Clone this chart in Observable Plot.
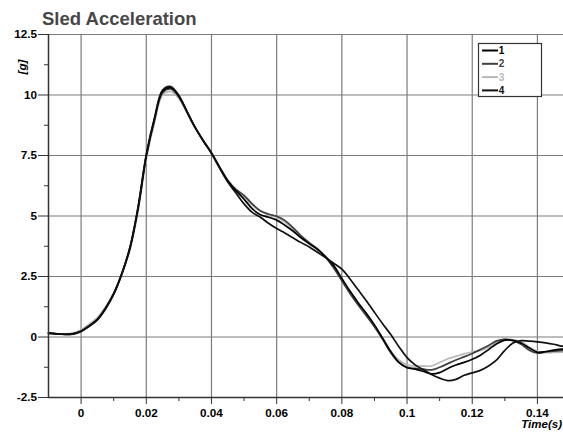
<!DOCTYPE html>
<html><head><meta charset="utf-8">
<script src="https://cdn.jsdelivr.net/npm/d3@7"></script>
<script src="https://cdn.jsdelivr.net/npm/@observablehq/plot@0.6"></script>
<style>
body{margin:0;background:#fff;overflow:hidden}
#wrap{position:relative;width:563px;height:435px}
#title{position:absolute;left:42px;top:8px;font:bold 18.5px "Liberation Sans",Arial,sans-serif;color:#474747;z-index:2}
</style></head><body><div id="wrap"><div id="title">Sled Acceleration</div></div>
<script>
const time = [-0.01,-0.0075,-0.005,-0.0025,0,0.0025,0.005,0.0075,0.01,0.0125,0.015,0.0175,0.02,0.0225,0.025,0.0275,0.03,0.0325,0.035,0.0375,0.04,0.0425,0.045,0.0475,0.05,0.0525,0.055,0.0575,0.06,0.0625,0.065,0.0675,0.07,0.0725,0.075,0.0775,0.08,0.0825,0.085,0.0875,0.09,0.0925,0.095,0.0975,0.1,0.1025,0.105,0.1075,0.11,0.1125,0.115,0.1175,0.12,0.1225,0.125,0.1275,0.13,0.1325,0.135,0.1375,0.14,0.1425,0.145,0.1475,0.15];
const accel1 = [0.16,0.13,0.11,0.13,0.24,0.45,0.72,1.18,1.78,2.62,3.7,5.35,7.5,9.0,10.15,10.3,9.95,9.3,8.65,8.1,7.6,7.0,6.45,6.05,
  5.7,5.3,5.05,4.95,4.83,4.62,4.38,4.1,3.85,3.62,3.32,2.95,2.42,1.9,1.42,0.98,0.5,-0.05,-0.6,-1.05,-1.27,-1.33,-1.42,-1.52,-1.47,-1.3,-1.16,-1.05,-0.92,-0.75,-0.52,-0.28,-0.13,-0.14,-0.25,-0.45,-0.63,-0.6,-0.54,-0.5,-0.5];
const accel2 = [0.15,0.13,0.12,0.14,0.25,0.47,0.74,1.2,1.8,2.6,3.65,5.3,7.45,8.95,10.1,10.25,9.92,9.3,8.66,8.12,7.62,7.03,6.48,6.1,
  5.85,5.5,5.22,5.08,4.99,4.82,4.52,4.18,3.9,3.65,3.3,2.85,2.32,1.8,1.32,0.88,0.42,-0.1,-0.65,-1.05,-1.25,-1.3,-1.33,-1.36,-1.25,-1.1,-0.95,-0.82,-0.68,-0.52,-0.35,-0.16,-0.1,-0.15,-0.3,-0.55,-0.67,-0.62,-0.58,-0.56,-0.56];
const accel3 = [0.15,0.14,0.13,0.16,0.3,0.53,0.8,1.25,1.82,2.6,3.6,5.2,7.35,8.85,10.0,10.15,9.85,9.25,8.62,8.1,7.6,7.02,6.47,6.08,
  5.8,5.45,5.2,5.05,4.95,4.75,4.45,4.12,3.87,3.6,3.3,2.88,2.36,1.85,1.36,0.9,0.44,-0.05,-0.58,-0.95,-1.15,-1.2,-1.2,-1.2,-1.05,-0.9,-0.8,-0.7,-0.62,-0.55,-0.42,-0.2,-0.08,-0.12,-0.19,-0.42,-0.6,-0.65,-0.64,-0.63,-0.63];
const accel4 = [0.17,0.13,0.11,0.12,0.23,0.44,0.71,1.16,1.76,2.62,3.72,5.4,7.55,9.05,10.2,10.35,9.98,9.32,8.66,8.1,7.58,6.98,6.4,5.95,
  5.5,5.15,4.95,4.7,4.48,4.3,4.1,3.9,3.72,3.5,3.28,3.05,2.8,2.4,1.95,1.5,1.02,0.55,0.1,-0.4,-0.85,-1.15,-1.35,-1.55,-1.7,-1.8,-1.75,-1.58,-1.48,-1.38,-1.2,-0.95,-0.55,-0.25,-0.15,-0.17,-0.2,-0.24,-0.3,-0.38,-0.42];
const seriesNames = ["1","2","3","4"];
const seriesColors = ["#000000","#404040","#b8b8b8","#101010"];
const drawOrder = ["3","2","1","4"];
const yTicks = [-2.5,0,2.5,5,7.5,10,12.5];
const yMinor = [-1.25,1.25,3.75,6.25,8.75,11.25];
const xTicks = [0,0.02,0.04,0.06,0.08,0.1,0.12,0.14];
const xMinor = [0.01,0.03,0.05,0.07,0.09,0.11,0.13];
const xDomain = [-0.01,0.148];
const yDomain = [-2.5,12.5];

const allSeries = {"1":accel1,"2":accel2,"3":accel3,"4":accel4};
const rows = [];
for (const s of drawOrder) allSeries[s].forEach((g,i)=>rows.push({t:time[i],g,series:s}));

const fmt = d => String(+d.toFixed(4));
const font = "'Liberation Sans', Arial, sans-serif";

const chart = Plot.plot({
  width: 563, height: 435,
  marginLeft: 48, marginRight: 0, marginTop: 34, marginBottom: 38,
  style: {fontFamily: font, fontSize: "11.7px", fontWeight: "bold", color: "#000", background: "#fff"},
  x: {domain: xDomain},
  y: {domain: yDomain},
  color: {domain: seriesNames, range: seriesColors},
  marks: [
    Plot.gridX(xTicks, {stroke: "#7c7c7c", strokeOpacity: 1, strokeWidth: 1.2}),
    Plot.gridY(yTicks, {stroke: "#7c7c7c", strokeOpacity: 1, strokeWidth: 1.2}),
    Plot.axisY({ticks: yTicks, tickSize: 10, tickPadding: 1.5, tickFormat: fmt, stroke: "#333", label: null}),
    Plot.axisY({ticks: yMinor, tickSize: 4, tickFormat: () => "", stroke: "#333", label: null}),
    Plot.axisX({ticks: xTicks, tickSize: 7, tickPadding: 4, tickFormat: fmt, stroke: "#333", label: null}),
    Plot.axisX({ticks: xMinor, tickSize: 4, tickFormat: () => "", stroke: "#333", label: null}),
    Plot.line(rows, {x: "t", y: "g", z: "series", stroke: "series", strokeWidth: 1.7, curve: "catmull-rom"}),
    Plot.ruleX([xDomain[0]], {stroke: "#333", strokeWidth: 1.5}),
    Plot.ruleY([yDomain[0]], {stroke: "#333", strokeWidth: 1.5})
  ]
});
document.getElementById("wrap").appendChild(chart);

const svg = d3.select(chart);
svg.append("text").attr("transform","translate(26,67) rotate(-90)")
  .attr("font-style","italic").attr("font-weight","bold").attr("font-size","11.7px").attr("fill","#000").text("[g]");
svg.append("text").attr("x",562).attr("y",428).attr("text-anchor","end")
  .attr("font-style","italic").attr("font-weight","bold").attr("font-size","11.5px").attr("fill","#000").text("Time(s)");
const lg = svg.append("g");
lg.append("rect").attr("x",478.5).attr("y",43.5).attr("width",63).attr("height",53)
  .attr("fill","#fff").attr("stroke","#333").attr("stroke-width",1.2);
seriesNames.forEach((n,i)=>{
  const y = 50.5 + i*13.3;
  lg.append("line").attr("x1",482).attr("x2",498).attr("y1",y).attr("y2",y)
    .attr("stroke",seriesColors[i]).attr("stroke-width",2);
  lg.append("text").attr("x",501.5).attr("y",y+3.5).attr("font-size","10px").attr("font-weight","bold")
    .attr("fill",seriesColors[i]).text(n);
});
</script></body></html>
